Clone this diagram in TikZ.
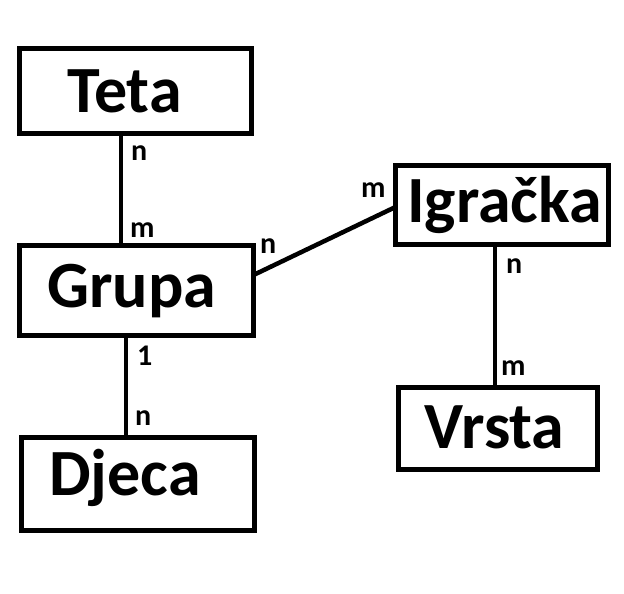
\documentclass[tikz,border=0pt]{standalone}
\usepackage{fontspec}
\setmainfont{Carlito}
\begin{document}
\begin{tikzpicture}[x=1pt,y=-1pt,
  entbox/.style={draw=black,line width=4.5pt,rectangle,inner sep=0pt,outer sep=0pt},
  enttext/.style={inner sep=0pt,anchor=base west,font=\fontsize{66}{66}\selectfont\bfseries},
  card/.style={inner sep=0pt,anchor=base west,font=\fontsize{30}{30}\selectfont\bfseries},
  conn/.style={line width=4.5pt}]
\useasboundingbox (0,0) rectangle (624,594);
% boxes
\node[entbox,minimum width=232pt,minimum height=85pt] (teta) at (135.5,91) {};
\node[entbox,minimum width=234pt,minimum height=90pt] (grupa) at (136.5,290.5) {};
\node[entbox,minimum width=233pt,minimum height=93pt] (djeca) at (138,484) {};
\node[entbox,minimum width=213pt,minimum height=79pt] (igracka) at (502,205) {};
\node[entbox,minimum width=199pt,minimum height=82pt] (vrsta) at (498,428.5) {};
% texts
\node[enttext] (tTeta) at (67,112) {Teta};
\node[enttext] (tGrupa) at (47,307) {Grupa};
\node[enttext] (tDjeca) at (49,495) {Djeca};
\node[enttext] (tIgracka) at (407,222) {Igračka};
\node[enttext] (tVrsta) at (424,448) {Vrsta};
% connectors
\draw[conn] ([xshift=-14.5pt]teta.south) -- ([xshift=-15.5pt]grupa.north);
\draw[conn] ([xshift=-10.5pt]grupa.south) -- ([xshift=-12pt]djeca.north);
\draw[conn] ([yshift=15.5pt]grupa.east) -- ([yshift=-2pt]igracka.west);
\draw[conn] ([xshift=-7pt]igracka.south) -- ([xshift=-3pt]vrsta.north);
% cardinalities
\node[card] (c1) at (131,160) {n};
\node[card] (c2) at (130,237) {m};
\node[card] (c3) at (137,365) {1};
\node[card] (c4) at (135,425) {n};
\node[card] (c5) at (260,253) {n};
\node[card] (c6) at (361,197) {m};
\node[card] (c7) at (506,273) {n};
\node[card] (c8) at (501,375) {m};
\end{tikzpicture}
\end{document}
